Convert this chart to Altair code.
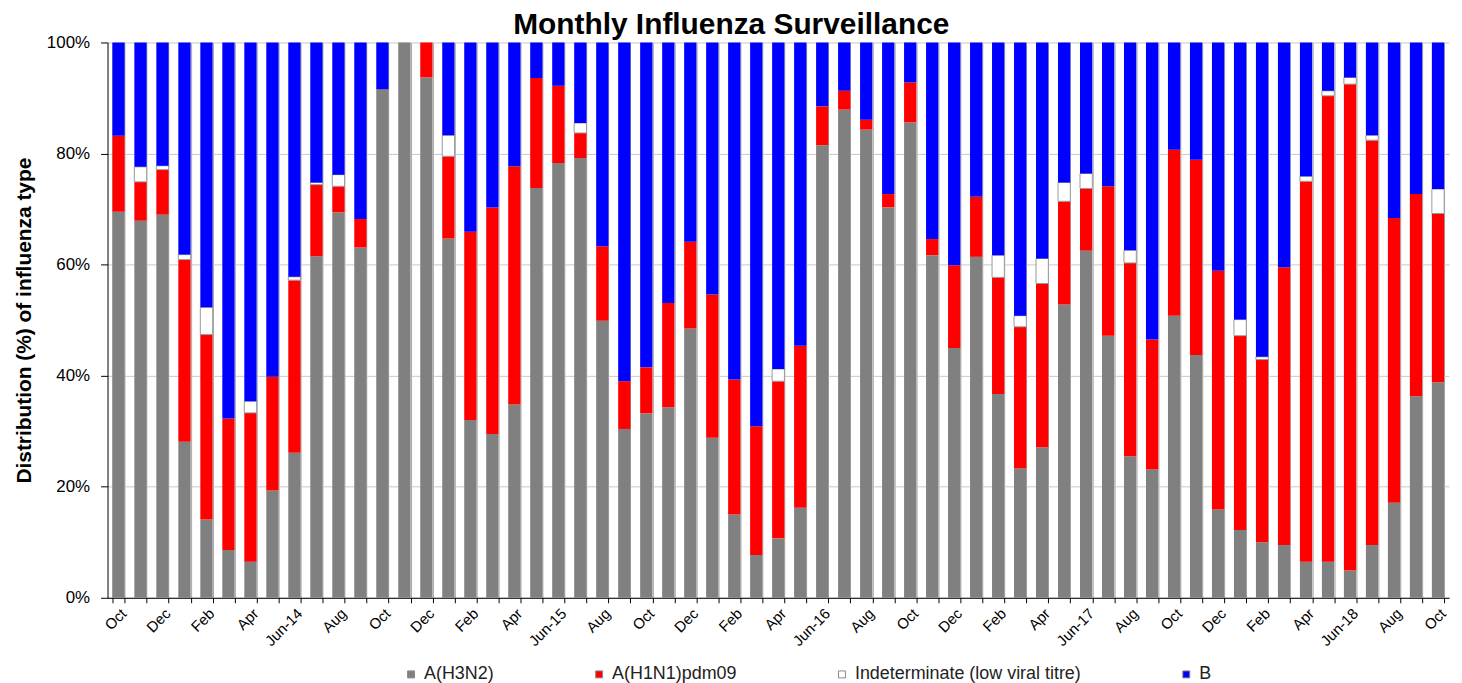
import json
import altair as alt
import pandas as pd

months = [
    "Oct-13", "Nov-13", "Dec-13", "Jan-14", "Feb-14", "Mar-14", "Apr-14", "May-14", "Jun-14", "Jul-14",
    "Aug-14", "Sep-14", "Oct-14", "Nov-14", "Dec-14", "Jan-15", "Feb-15", "Mar-15", "Apr-15", "May-15",
    "Jun-15", "Jul-15", "Aug-15", "Sep-15", "Oct-15", "Nov-15", "Dec-15", "Jan-16", "Feb-16", "Mar-16",
    "Apr-16", "May-16", "Jun-16", "Jul-16", "Aug-16", "Sep-16", "Oct-16", "Nov-16", "Dec-16", "Jan-17",
    "Feb-17", "Mar-17", "Apr-17", "May-17", "Jun-17", "Jul-17", "Aug-17", "Sep-17", "Oct-17", "Nov-17",
    "Dec-17", "Jan-18", "Feb-18", "Mar-18", "Apr-18", "May-18", "Jun-18", "Jul-18", "Aug-18", "Sep-18",
    "Oct-18",
]

# labels shown on every other month, starting with Oct-13
tick_labels = [
    "Oct", "Dec", "Feb", "Apr", "Jun-14", "Aug", "Oct", "Dec", "Feb", "Apr", "Jun-15", "Aug",
    "Oct", "Dec", "Feb", "Apr", "Jun-16", "Aug", "Oct", "Dec", "Feb", "Apr", "Jun-17", "Aug",
    "Oct", "Dec", "Feb", "Apr", "Jun-18", "Aug", "Oct",
]

h3n2 = [69.5, 67.9, 69.0, 28.1, 14.1, 8.6, 6.5, 19.3, 26.1, 61.5, 69.4, 63.1, 91.6, 100.0, 93.7,
        64.7, 32.0, 29.5, 34.8, 73.8, 78.3, 79.2, 49.9, 30.4, 33.2, 34.3, 48.5, 28.8, 15.0, 7.7,
        10.7, 16.2, 81.5, 87.9, 84.3, 70.3, 85.6, 61.7, 45.0, 61.4, 36.7, 23.3, 27.1, 52.8, 62.5,
        47.2, 25.5, 23.1, 50.8, 43.7, 15.9, 12.2, 10.0, 9.5, 6.5, 6.5, 4.9, 9.5, 17.1, 36.3, 38.8]
h1n1 = [13.7, 7.0, 8.1, 32.8, 33.3, 23.7, 26.8, 20.5, 31.1, 12.9, 4.7, 5.1, 0.0, 0.0, 6.3,
        14.8, 33.9, 40.8, 42.9, 19.8, 13.9, 4.5, 13.4, 8.6, 8.3, 18.8, 15.6, 25.8, 24.3, 23.2,
        28.3, 29.2, 7.0, 3.4, 1.8, 2.4, 7.2, 2.9, 14.9, 10.8, 21.0, 25.5, 29.5, 18.6, 11.2,
        26.9, 34.8, 23.4, 29.9, 35.2, 43.0, 35.0, 32.9, 50.0, 68.5, 83.9, 87.6, 72.9, 51.3, 36.4, 30.4]
indet = [0.0, 2.7, 0.7, 0.9, 4.9, 0.0, 2.1, 0.0, 0.6, 0.4, 2.1, 0.0, 0.0, 0.0, 0.0,
         3.8, 0.0, 0.0, 0.0, 0.0, 0.0, 1.8, 0.0, 0.0, 0.0, 0.0, 0.0, 0.0, 0.0, 0.0,
         2.2, 0.0, 0.0, 0.0, 0.0, 0.0, 0.0, 0.0, 0.0, 0.0, 4.0, 2.0, 4.5, 3.4, 2.7,
         0.0, 2.3, 0.0, 0.0, 0.0, 0.0, 2.9, 0.5, 0.0, 0.9, 0.9, 1.2, 0.9, 0.0, 0.0, 4.4]
type_b = [16.8, 22.4, 22.2, 38.2, 47.7, 67.7, 64.6, 60.2, 42.2, 25.2, 23.8, 31.8, 8.4, 0.0, 0.0,
          16.7, 34.1, 29.7, 22.3, 6.4, 7.8, 14.5, 36.7, 61.0, 58.5, 46.9, 35.9, 45.4, 60.7, 69.1,
          58.8, 54.6, 11.5, 8.7, 13.9, 27.3, 7.2, 35.4, 40.1, 27.8, 38.3, 49.2, 38.9, 25.2, 23.6,
          25.9, 37.4, 53.5, 19.3, 21.1, 41.1, 49.9, 56.6, 40.5, 24.1, 8.7, 6.3, 16.7, 31.6, 27.3, 26.4]

series = ["A(H3N2)", "A(H1N1)pdm09", "Indeterminate (low viral titre)", "B"]
colors = ["#808080", "#FF0000", "#FFFFFF", "#0000FF"]

rows = []
for i, m in enumerate(months):
    for k, vals in enumerate([h3n2, h1n1, indet, type_b]):
        if vals[i] > 0:
            rows.append({"month": m, "series": series[k], "value": vals[i], "order": k})
df = pd.DataFrame(rows)

label_map = {m: "" for m in months}
for m, t in zip(months[::2], tick_labels):
    label_map[m] = t

FONT = "Liberation Sans"

chart = alt.Chart(df).mark_bar().encode(
    x=alt.X(
        "month:N",
        sort=months,
        scale=alt.Scale(paddingInner=0.44, paddingOuter=0.22),
        axis=alt.Axis(
            title=None,
            labelAngle=-45,
            labelExpr=f"{json.dumps(label_map)}[datum.value]",
            labelOverlap=False,
            labelFont=FONT,
            labelFontSize=15,
            labelColor="black",
            labelPadding=3,
            tickBand="extent",
            tickColor="black",
            tickSize=5,
            domainColor="black",
            grid=True,
            gridColor="#a8a8a8",
            gridWidth=1,
        ),
    ),
    y=alt.Y(
        "value:Q",
        stack="zero",
        scale=alt.Scale(domain=[0, 100], nice=False),
        axis=alt.Axis(
            values=[0, 20, 40, 60, 80, 100],
            labelExpr="datum.value + '%'",
            labelFont=FONT,
            labelFontSize=17,
            labelColor="black",
            labelPadding=11,
            tickColor="black",
            tickSize=7,
            domainColor="black",
            gridColor="#c8c8c8",
            title="Distribution (%) of influenza type",
            titleFont=FONT,
            titleFontSize=21,
            titleFontWeight="bold",
            titleColor="black",
            titlePadding=12,
        ),
    ),
    color=alt.Color(
        "series:N",
        scale=alt.Scale(domain=series, range=colors),
        legend=alt.Legend(
            title=None,
            orient="none",
            direction="horizontal",
            legendX=296,
            legendY=626,
            padding=0,
            columnPadding=96,
            symbolType="square",
            symbolSize=49,
            symbolStrokeColor="#888888",
            symbolStrokeWidth=1,
            labelFont=FONT,
            labelFontSize=18,
            labelColor="#222222",
            labelOffset=4,
            labelLimit=400,
        ),
    ),
    stroke=alt.condition(
        alt.datum.series == "Indeterminate (low viral titre)",
        alt.value("#999999"),
        alt.value("transparent"),
    ),
    order=alt.Order("order:Q"),
).properties(
    width=1348,
    height=558,
    padding={"left": 5, "top": 0, "right": 5, "bottom": 0},
    title=alt.TitleParams(
        "Monthly Influenza Surveillance",
        font=FONT,
        fontSize=30,
        fontWeight="bold",
        color="black",
        anchor="middle",
        frame="bounds",
        offset=-6,
    ),
).configure_view(stroke="transparent")

chart.save("out.html", embed_options={"renderer": "svg", "actions": False})
